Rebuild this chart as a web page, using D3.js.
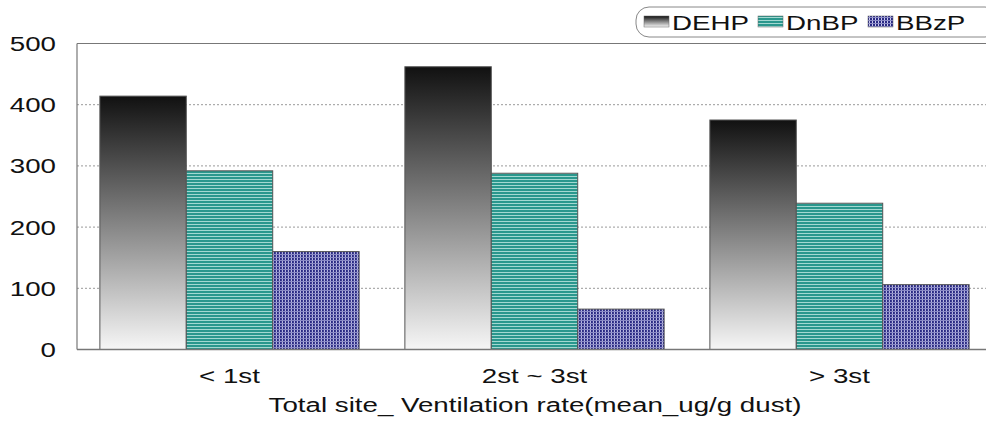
<!DOCTYPE html>
<html>
<head>
<meta charset="utf-8">
<script src="https://cdn.jsdelivr.net/npm/d3@7"></script>
<style>
  html, body { margin: 0; padding: 0; background: #fff; }
  svg { display: block; font-family: "Liberation Sans", Arial, sans-serif; }
</style>
</head>
<body>
<svg id="chart" width="986" height="423"></svg>
<script>
// Phthalate concentrations by ventilation-rate group (mean, ug/g dust)
const categories = ["< 1st", "2st ~ 3st", "> 3st"];
const seriesNames = ["DEHP", "DnBP", "BBzP"];
const dehp = [414, 462, 375];
const dnbp = [292, 288, 239];
const bbzp = [160, 66, 106];
const yTicks = [0, 100, 200, 300, 400, 500];
const xTitle = "Total site_ Ventilation rate(mean_ug/g dust)";

const values = { DEHP: dehp, DnBP: dnbp, BBzP: bbzp };

const svg = d3.select("#chart");
const W = 986, H = 423;
const margin = { left: 77, right: -6, top: 43.5, bottom: 73.5 };
const x0 = margin.left, x1 = W - margin.right;
const y0 = H - margin.bottom, y1 = margin.top;
const stretch = 1.32;   // wide, horizontally stretched lettering
const fontSize = 21;

const x = d3.scaleBand().domain(categories).range([x0, x1]).paddingInner(0.15).paddingOuter(0.075);
const xs = d3.scaleBand().domain(seriesNames).range([0, x.bandwidth()]);
const y = d3.scaleLinear().domain([0, 500]).range([y0, y1]);

function label(parent, px, py, str, anchor) {
  return parent.append("text")
    .attr("transform", `translate(${px},${py}) scale(${stretch},1)`)
    .attr("text-anchor", anchor)
    .attr("font-size", fontSize)
    .attr("fill", "#111")
    .text(str);
}

const defs = svg.append("defs");

// Vertical black-to-white gradient for DEHP
const grad = defs.append("linearGradient").attr("id", "gDEHP")
  .attr("x1", 0).attr("y1", 0).attr("x2", 0).attr("y2", 1);
grad.append("stop").attr("offset", "0%").attr("stop-color", "#111");
grad.append("stop").attr("offset", "100%").attr("stop-color", "#f6f6f6");

// Teal horizontal stripes for DnBP
const pTeal = defs.append("pattern").attr("id", "pDnBP")
  .attr("patternUnits", "userSpaceOnUse").attr("width", 6).attr("height", 3);
pTeal.append("rect").attr("width", 6).attr("height", 3).attr("fill", "#2a978d");
pTeal.append("rect").attr("y", 2).attr("width", 6).attr("height", 1).attr("fill", "#a3d8d1");

// Navy grid for BBzP
const pNavy = defs.append("pattern").attr("id", "pBBzP")
  .attr("patternUnits", "userSpaceOnUse").attr("width", 3).attr("height", 3);
pNavy.append("rect").attr("width", 3).attr("height", 3).attr("fill", "#2a2a84");
pNavy.append("rect").attr("x", 2).attr("width", 1).attr("height", 3).attr("fill", "#cacaec");
pNavy.append("rect").attr("y", 2).attr("width", 3).attr("height", 1).attr("fill", "#8a8ac6");

const fills = { DEHP: "url(#gDEHP)", DnBP: "url(#pDnBP)", BBzP: "url(#pBBzP)" };

// Grid lines
svg.append("g").selectAll("line")
  .data(yTicks.filter(t => t > 0 && t < 500))
  .join("line")
  .attr("x1", x0).attr("x2", x1)
  .attr("y1", d => y(d)).attr("y2", d => y(d))
  .attr("stroke", "#999").attr("stroke-width", 1)
  .attr("stroke-dasharray", "2,2");

// Plot frame: left and top
svg.append("line").attr("x1", x0).attr("x2", x0).attr("y1", y1).attr("y2", y0)
  .attr("stroke", "#777").attr("stroke-width", 1.2);
svg.append("line").attr("x1", x0).attr("x2", x1).attr("y1", y1).attr("y2", y1)
  .attr("stroke", "#777").attr("stroke-width", 1.2);

// Bars
const groups = svg.append("g").selectAll("g")
  .data(categories)
  .join("g")
  .attr("transform", d => `translate(${x(d)},0)`);

groups.selectAll("rect")
  .data((c, i) => seriesNames.map(s => ({ s, v: values[s][i] })))
  .join("rect")
  .attr("x", d => xs(d.s))
  .attr("width", xs.bandwidth())
  .attr("y", d => y(d.v))
  .attr("height", d => y(0) - y(d.v))
  .attr("fill", d => fills[d.s])
  .attr("stroke", "#555")
  .attr("stroke-width", 1);

// Baseline
svg.append("line").attr("x1", x0).attr("x2", x1).attr("y1", y0).attr("y2", y0)
  .attr("stroke", "#777").attr("stroke-width", 1.5);

// Y tick labels
const yg = svg.append("g");
yTicks.forEach(t => label(yg, 56, y(t) + 7.5, d3.format("d")(t), "end"));

// Category labels
const xg = svg.append("g");
categories.forEach(c => label(xg, x(c) + x.bandwidth() / 2, 383, c, "middle"));

// X axis title
label(svg, (x0 + x1) / 2 + 0.5, 412, xTitle, "middle");

// Legend
const lg = svg.append("g");
lg.append("rect").attr("x", 636).attr("y", 7).attr("width", 362).attr("height", 30)
  .attr("rx", 13).attr("fill", "#fff").attr("stroke", "#888").attr("stroke-width", 1);
const legendX = [644, 758, 868];
seriesNames.forEach((s, i) => {
  lg.append("rect").attr("x", legendX[i]).attr("y", 16).attr("width", 25).attr("height", 11)
    .attr("fill", fills[s]).attr("stroke", "#666").attr("stroke-width", 0.5);
  label(lg, legendX[i] + 28, 29.5, s, "start");
});
</script>
</body>
</html>
